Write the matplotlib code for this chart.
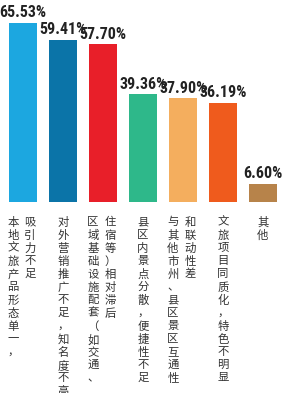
import matplotlib
matplotlib.use('Agg')
import matplotlib.pyplot as plt
from matplotlib.transforms import blended_transform_factory

# data
categories = [
    ['本地文旅产品形态单一，', '吸引力不足'],
    ['对外营销推广不足，知名度不高'],
    ['区域基础设施配套（如交通、', '住宿等）相对滞后'],
    ['县区内景点分散，便捷性不足'],
    ['与其他市州、县区景区互通性', '和联动性差'],
    ['文旅项目同质化，特色不明显'],
    ['其他'],
]
values = [65.53, 59.41, 57.70, 39.36, 37.90, 36.19, 6.60]
colors = ['#1ca7e0', '#0b74a8', '#e81f29', '#2eb88a', '#f4ae5e', '#ef5b1d', '#b7834a']

W, H = 286, 393
fig = plt.figure(figsize=(W/100, H/100), dpi=100)
fig.patch.set_facecolor('white')

base_px = 202
ax = fig.add_axes([0, 1 - base_px/H, 1, base_px/H])
ax.set_xlim(-0.575, 6.575)
ax.set_ylim(0, base_px/2.732)
ax.axis('off')

x = list(range(len(values)))
bars = ax.bar(x, values, width=0.7, color=colors)

for b, v in zip(bars, values):
    ax.annotate('%.2f%%' % v, (b.get_x() + b.get_width()/2, v),
                xytext=(0, 2), textcoords='offset points',
                ha='center', va='bottom', fontsize=11.5, fontweight='bold',
                family=['Roboto Condensed', 'Oswald', 'Antonio', 'DejaVu Sans'],
                color='#222222')

# vertical category labels, one char at a time
trans = blended_transform_factory(ax.transData, fig.transFigure)
top_px = 217
pitch = 13
for i, cols in enumerate(categories):
    if len(cols) == 2:
        offs = [-0.25, 0.175]
    else:
        offs = [0.0]
    for off, col in zip(offs, cols):
        for k, ch in enumerate(col):
            ax.text(i + off, 1 - (top_px + k*pitch)/H, ch, transform=trans,
                    ha='center', va='top', fontsize=8.2, color='#333333',
                    family=['Noto Sans CJK SC', 'DejaVu Sans'])

plt.savefig('out.png', dpi=100)
